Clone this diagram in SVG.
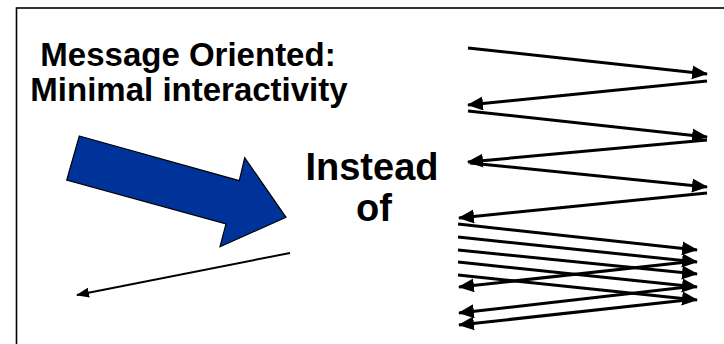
<svg xmlns="http://www.w3.org/2000/svg" width="724" height="344" viewBox="0 0 724 344">
  <style>
    .label { font-family: "Liberation Sans", Arial, sans-serif; font-weight: bold; fill: #000; text-anchor: middle; }
    .msg { stroke: #000; stroke-width: 3; fill: none; marker-end: url(#head); }
    .thin { stroke: #000; stroke-width: 2; fill: none; marker-end: url(#headSmall); }
  </style>
  <defs>
    <marker id="head" markerUnits="userSpaceOnUse" markerWidth="17" markerHeight="15" refX="15" refY="7" orient="auto">
      <path d="M0,0 L16,7 L0,14 z" fill="#000"/>
    </marker>
    <marker id="headSmall" markerUnits="userSpaceOnUse" markerWidth="14" markerHeight="12" refX="12" refY="5" orient="auto">
      <path d="M0,0 L13,5 L0,10 z" fill="#000"/>
    </marker>
  </defs>

  <!-- frame -->
  <rect x="16.5" y="8" width="720" height="350" fill="#fff" stroke="#000" stroke-width="1.6"/>

  <g id="title">
    <text class="label" x="188" y="66" font-size="33">Message Oriented:</text>
    <text class="label" x="189" y="101" font-size="33">Minimal interactivity</text>
  </g>

  <g id="instead">
    <text class="label" x="372" y="180" font-size="38">Instead</text>
    <text class="label" x="374" y="221" font-size="38">of</text>
  </g>

  <g id="big-arrow">
    <polygon points="79.3,136 239.3,180.7 244.7,157.7 286,217.3 220,246.7 226,224 66.7,180" fill="#003399" stroke="#000" stroke-width="1.2" stroke-linejoin="miter"/>
  </g>

  <g id="connectors">
    <!-- single message -->
    <line class="thin" x1="290" y1="253" x2="77" y2="295"/>

    <!-- zig-zag exchange -->
    <line class="msg" x1="468" y1="48" x2="707" y2="74"/>
    <line class="msg" x1="707" y1="81" x2="468" y2="105"/>
    <line class="msg" x1="468" y1="111" x2="707" y2="137"/>
    <line class="msg" x1="707" y1="140" x2="468" y2="162"/>
    <line class="msg" x1="470" y1="163" x2="707" y2="187"/>
    <line class="msg" x1="707" y1="193" x2="459" y2="218"/>

    <!-- dense exchange -->
    <line class="msg" x1="458" y1="224" x2="697" y2="250"/>
    <line class="msg" x1="458" y1="237" x2="697" y2="262"/>
    <line class="msg" x1="458" y1="250" x2="697" y2="274"/>
    <line class="msg" x1="458" y1="262" x2="697" y2="287"/>
    <line class="msg" x1="458" y1="275" x2="697" y2="300"/>
    <line class="msg" x1="687" y1="262" x2="459" y2="287"/>
    <line class="msg" x1="687" y1="287" x2="459" y2="313"/>
    <line class="msg" x1="687" y1="300" x2="459" y2="325"/>
  </g>
</svg>
